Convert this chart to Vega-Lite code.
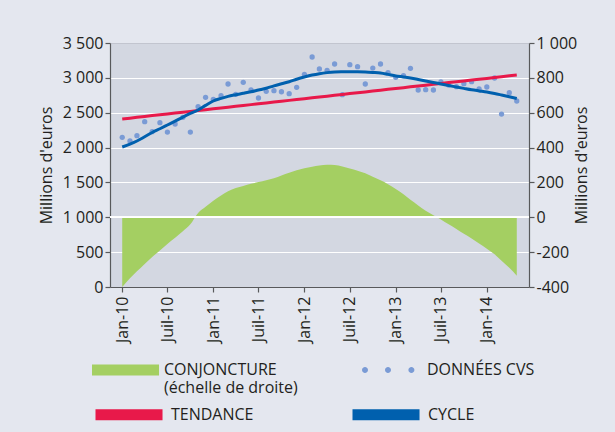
{
  "$schema": "https://vega.github.io/schema/vega-lite/v6.json",
  "width": 419,
  "height": 244,
  "autosize": "none",
  "padding": {"left": 110, "top": 43, "right": 86, "bottom": 145},
  "background": "#e4e7ef",
  "config": {
    "font": "Open Sans",
    "view": {"fill": "#d3d7e1", "stroke": null},
    "axis": {"labelFontSize": 16, "labelColor": "#231f20", "titleFontSize": 16, "titleFontWeight": "normal", "titleColor": "#231f20", "domainColor": "#58595b", "tickColor": "#58595b", "tickSize": 5, "domainWidth": 1.2, "tickWidth": 1.2, "labelOverlap": false},
    "legend": {"labelFontSize": 16, "labelColor": "#231f20", "labelLimit": 0, "title": null, "orient": "none", "symbolSize": 144, "labelOffset": 58}
  },
  "datasets": {
    "d": [
      {"date": "2010-01-01", "cvs": 2147, "tendance": 2410, "cycle": 2008, "conjoncture": -400},
      {"date": "2010-02-01", "cvs": 2094, "tendance": 2422, "cycle": 2050, "conjoncture": -350},
      {"date": "2010-03-01", "cvs": 2170, "tendance": 2434, "cycle": 2094, "conjoncture": -310},
      {"date": "2010-04-01", "cvs": 2371, "tendance": 2446, "cycle": 2155, "conjoncture": -268},
      {"date": "2010-05-01", "cvs": 2228, "tendance": 2459, "cycle": 2216, "conjoncture": -228},
      {"date": "2010-06-01", "cvs": 2357, "tendance": 2471, "cycle": 2270, "conjoncture": -190},
      {"date": "2010-07-01", "cvs": 2223, "tendance": 2483, "cycle": 2324, "conjoncture": -153},
      {"date": "2010-08-01", "cvs": 2338, "tendance": 2495, "cycle": 2380, "conjoncture": -117},
      {"date": "2010-09-01", "cvs": 2434, "tendance": 2507, "cycle": 2438, "conjoncture": -80},
      {"date": "2010-10-01", "cvs": 2223, "tendance": 2519, "cycle": 2490, "conjoncture": -40},
      {"date": "2010-11-01", "cvs": 2586, "tendance": 2531, "cycle": 2539, "conjoncture": 25},
      {"date": "2010-12-01", "cvs": 2721, "tendance": 2543, "cycle": 2605, "conjoncture": 60},
      {"date": "2011-01-01", "cvs": 2692, "tendance": 2556, "cycle": 2668, "conjoncture": 95},
      {"date": "2011-02-01", "cvs": 2744, "tendance": 2568, "cycle": 2705, "conjoncture": 125},
      {"date": "2011-03-01", "cvs": 2912, "tendance": 2580, "cycle": 2735, "conjoncture": 150},
      {"date": "2011-04-01", "cvs": 2764, "tendance": 2592, "cycle": 2758, "conjoncture": 168},
      {"date": "2011-05-01", "cvs": 2936, "tendance": 2604, "cycle": 2778, "conjoncture": 180},
      {"date": "2011-06-01", "cvs": 2826, "tendance": 2616, "cycle": 2800, "conjoncture": 192},
      {"date": "2011-07-01", "cvs": 2711, "tendance": 2628, "cycle": 2825, "conjoncture": 202},
      {"date": "2011-08-01", "cvs": 2807, "tendance": 2640, "cycle": 2850, "conjoncture": 212},
      {"date": "2011-09-01", "cvs": 2816, "tendance": 2653, "cycle": 2885, "conjoncture": 224},
      {"date": "2011-10-01", "cvs": 2801, "tendance": 2665, "cycle": 2915, "conjoncture": 240},
      {"date": "2011-11-01", "cvs": 2773, "tendance": 2677, "cycle": 2945, "conjoncture": 256},
      {"date": "2011-12-01", "cvs": 2864, "tendance": 2689, "cycle": 2980, "conjoncture": 270},
      {"date": "2012-01-01", "cvs": 3051, "tendance": 2701, "cycle": 3012, "conjoncture": 282},
      {"date": "2012-02-01", "cvs": 3299, "tendance": 2713, "cycle": 3040, "conjoncture": 290},
      {"date": "2012-03-01", "cvs": 3127, "tendance": 2725, "cycle": 3060, "conjoncture": 297},
      {"date": "2012-04-01", "cvs": 3108, "tendance": 2737, "cycle": 3075, "conjoncture": 301},
      {"date": "2012-05-01", "cvs": 3199, "tendance": 2750, "cycle": 3084, "conjoncture": 300},
      {"date": "2012-06-01", "cvs": 2758, "tendance": 2762, "cycle": 3087, "conjoncture": 292},
      {"date": "2012-07-01", "cvs": 3189, "tendance": 2774, "cycle": 3088, "conjoncture": 280},
      {"date": "2012-08-01", "cvs": 3160, "tendance": 2786, "cycle": 3087, "conjoncture": 267},
      {"date": "2012-09-01", "cvs": 2912, "tendance": 2798, "cycle": 3084, "conjoncture": 253},
      {"date": "2012-10-01", "cvs": 3141, "tendance": 2810, "cycle": 3078, "conjoncture": 233},
      {"date": "2012-11-01", "cvs": 3199, "tendance": 2822, "cycle": 3070, "conjoncture": 212},
      {"date": "2012-12-01", "cvs": 3074, "tendance": 2835, "cycle": 3050, "conjoncture": 190},
      {"date": "2013-01-01", "cvs": 3008, "tendance": 2847, "cycle": 3027, "conjoncture": 162},
      {"date": "2013-02-01", "cvs": 3031, "tendance": 2859, "cycle": 3013, "conjoncture": 132},
      {"date": "2013-03-01", "cvs": 3137, "tendance": 2871, "cycle": 2998, "conjoncture": 100},
      {"date": "2013-04-01", "cvs": 2826, "tendance": 2883, "cycle": 2977, "conjoncture": 68},
      {"date": "2013-05-01", "cvs": 2830, "tendance": 2895, "cycle": 2955, "conjoncture": 38},
      {"date": "2013-06-01", "cvs": 2826, "tendance": 2907, "cycle": 2934, "conjoncture": 12},
      {"date": "2013-07-01", "cvs": 2941, "tendance": 2919, "cycle": 2912, "conjoncture": -12},
      {"date": "2013-08-01", "cvs": 2897, "tendance": 2932, "cycle": 2890, "conjoncture": -40},
      {"date": "2013-09-01", "cvs": 2873, "tendance": 2944, "cycle": 2869, "conjoncture": -67},
      {"date": "2013-10-01", "cvs": 2916, "tendance": 2956, "cycle": 2849, "conjoncture": -95},
      {"date": "2013-11-01", "cvs": 2945, "tendance": 2968, "cycle": 2829, "conjoncture": -122},
      {"date": "2013-12-01", "cvs": 2840, "tendance": 2980, "cycle": 2813, "conjoncture": -150},
      {"date": "2014-01-01", "cvs": 2869, "tendance": 2992, "cycle": 2797, "conjoncture": -180},
      {"date": "2014-02-01", "cvs": 2998, "tendance": 3004, "cycle": 2776, "conjoncture": -212},
      {"date": "2014-03-01", "cvs": 2481, "tendance": 3016, "cycle": 2754, "conjoncture": -250},
      {"date": "2014-04-01", "cvs": 2787, "tendance": 3029, "cycle": 2729, "conjoncture": -290},
      {"date": "2014-05-01", "cvs": 2668, "tendance": 3041, "cycle": 2704, "conjoncture": -335}
    ]
  },
  "data": {"name": "d"},
  "resolve": {"scale": {"y": "independent"}},
  "layer": [
    {
      "layer": [
        {
          "mark": {"type": "area", "interpolate": "monotone", "opacity": 1},
          "encoding": {
            "x": {"field": "date", "type": "temporal", "title": null,
              "scale": {"type": "utc", "domain": [{"year": 2009, "month": 11, "date": 13, "utc": true}, {"year": 2014, "month": 6, "date": 19, "utc": true}]},
              "axis": {"grid": false, "labelAngle": -90, "labelPadding": 4, "tickCount": 12,
                "values": [{"year": 2010, "month": 1, "date": 1, "utc": true}, {"year": 2010, "month": 7, "date": 1, "utc": true}, {"year": 2011, "month": 1, "date": 1, "utc": true}, {"year": 2011, "month": 7, "date": 1, "utc": true}, {"year": 2012, "month": 1, "date": 1, "utc": true}, {"year": 2012, "month": 7, "date": 1, "utc": true}, {"year": 2013, "month": 1, "date": 1, "utc": true}, {"year": 2013, "month": 7, "date": 1, "utc": true}, {"year": 2014, "month": 1, "date": 1, "utc": true}],
                "labelExpr": "(utcmonth(datum.value) == 0 ? 'Jan-' : 'Juil-') + utcFormat(datum.value, '%y')"}},
            "y": {"field": "conjoncture", "type": "quantitative", "title": "Millions d'euros",
              "scale": {"domain": [-400, 1000], "nice": false, "zero": false},
              "axis": {"orient": "right", "values": [-400, -200, 0, 200, 400, 600, 800, 1000], "tickCount": 10, "grid": true,
                "gridColor": {"condition": {"test": "datum.value == 1000", "value": "#c2c5cf"}, "value": "#ffffff"}, "gridWidth": 1.2,
                "labelPadding": 2, "titleAngle": 270, "titlePadding": 13,
                "labelExpr": "abs(datum.value) >= 1000 ? replace(format(datum.value, ','), ',', ' ') : toString(datum.value)"}},
            "y2": {"datum": 0},
            "color": {"datum": "CONJONCTURE", "type": "nominal",
              "scale": {"range": ["#a4cf62"]},
              "legend": {"legendX": -20, "legendY": 319, "symbolType": "M-1,-0.92H10.17V0.92H-1Z", "symbolStrokeWidth": 0,
                "labelExpr": "['CONJONCTURE', '(échelle de droite)']"}}
          }
        },
        {
          "mark": {"type": "rule", "color": "#ffffff", "strokeWidth": 1.2},
          "encoding": {"y": {"datum": 0}}
        }
      ]
    },
    {
      "layer": [
        {
          "mark": {"type": "circle", "size": 28, "opacity": 1},
          "encoding": {
            "x": {"field": "date", "type": "temporal", "title": null},
            "y": {"field": "cvs", "type": "quantitative", "title": "Millions d'euros",
              "scale": {"domain": [0, 3500], "nice": false},
              "axis": {"orient": "left", "values": [0, 500, 1000, 1500, 2000, 2500, 3000, 3500], "tickCount": 10, "grid": false, "labelPadding": 2, "titlePadding": 8,
                "labelExpr": "abs(datum.value) >= 1000 ? replace(format(datum.value, ','), ',', ' ') : toString(datum.value)"}},
            "fill": {"datum": "DONNÉES CVS", "type": "nominal", "scale": {"range": ["#7a9bd5"]},
              "legend": {"legendX": 243, "legendY": 319, "symbolStrokeWidth": 0,
                "symbolType": "M0.167,0a0.5,0.5 0 1,0 1,0a0.5,0.5 0 1,0 -1,0ZM4,0a0.5,0.5 0 1,0 1,0a0.5,0.5 0 1,0 -1,0ZM7.9,0a0.5,0.5 0 1,0 1,0a0.5,0.5 0 1,0 -1,0Z"}}
          }
        },
        {
          "mark": {"type": "line", "strokeWidth": 3},
          "encoding": {
            "x": {"field": "date", "type": "temporal", "title": null},
            "y": {"field": "tendance", "type": "quantitative", "title": "Millions d'euros"},
            "stroke": {"datum": "TENDANCE", "type": "nominal",
              "scale": {"domain": ["TENDANCE", "CYCLE"], "range": ["#e8194a", "#0060ae"]},
              "legend": {"legendX": -20, "legendY": 360, "direction": "horizontal", "columns": 2, "columnPadding": 76,
                "symbolType": "M-1,0H10.17", "symbolStrokeWidth": 11}}
          }
        },
        {
          "mark": {"type": "line", "strokeWidth": 3, "interpolate": "monotone"},
          "encoding": {
            "x": {"field": "date", "type": "temporal", "title": null},
            "y": {"field": "cycle", "type": "quantitative", "title": "Millions d'euros"},
            "stroke": {"datum": "CYCLE", "type": "nominal",
              "scale": {"domain": ["TENDANCE", "CYCLE"], "range": ["#e8194a", "#0060ae"]}}
          }
        }
      ]
    }
  ]
}
